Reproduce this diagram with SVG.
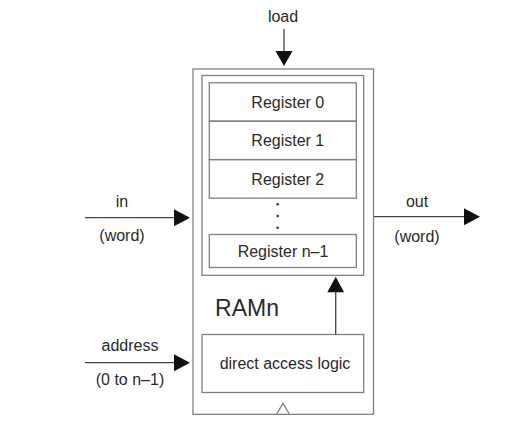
<svg xmlns="http://www.w3.org/2000/svg" width="509" height="430" viewBox="0 0 509 430">
<defs>
<style>
.box{fill:none;stroke:#808080;stroke-width:1.3}
.t{font-family:"Liberation Sans",Arial,sans-serif;font-size:16px;fill:#2a2a2a;text-anchor:middle}
.line{stroke:#444;stroke-width:1.3;fill:none}
.head{fill:#111}
</style>
</defs>
<rect width="509" height="430" fill="#fff"/>
<g id="ramn">
<rect class="box" x="193" y="69" width="180.5" height="345.3"/>
<text class="t" x="247" y="316" style="font-size:23px">RAMn</text>
<polyline class="box" points="276.7,414 282.9,403.3 289.3,414"/>
</g>
<g id="registers">
<rect class="box" x="202" y="75.5" width="161.7" height="199.8"/>
</g>
<g id="reg0"><rect class="box" x="209.3" y="82.8" width="147" height="38.4"/><text class="t" x="287.8" y="107.6">Register 0</text></g>
<g id="reg1"><rect class="box" x="209.3" y="121.2" width="147" height="38.4"/><text class="t" x="287.8" y="146">Register 1</text></g>
<g id="reg2"><rect class="box" x="209.3" y="159.6" width="147" height="38.6"/><text class="t" x="287.8" y="184.6">Register 2</text></g>
<g id="dots" fill="#333">
<circle cx="277.7" cy="204.3" r="1.3"/><circle cx="277.7" cy="216" r="1.3"/><circle cx="277.7" cy="227.7" r="1.3"/>
</g>
<g id="regn1"><rect class="box" x="209.3" y="234.5" width="147" height="33"/><text class="t" x="283" y="257">Register n–1</text></g>
<g id="logic"><rect class="box" x="202" y="334.5" width="161.7" height="58"/><text class="t" x="285" y="369">direct access logic</text></g>
<g id="connectors">
<line class="line" x1="284" y1="29" x2="284" y2="52"/><polygon class="head" points="275.5,51 292.5,51 284,66"/>
<text class="t" x="283" y="22">load</text>
<line class="line" x1="85" y1="217.7" x2="175" y2="217.7"/><polygon class="head" points="174,209.2 174,226.2 190,217.7"/>
<text class="t" x="122" y="207">in</text><text class="t" x="122" y="241">(word)</text>
<line class="line" x1="85" y1="362.7" x2="175" y2="362.7"/><polygon class="head" points="174,354.2 174,371.2 190,362.7"/>
<text class="t" x="130" y="351">address</text><text class="t" x="130" y="385">(0 to n–1)</text>
<line class="line" x1="374" y1="216.7" x2="465" y2="216.7"/><polygon class="head" points="464,208.2 464,225.2 480,216.7"/>
<text class="t" x="417" y="207">out</text><text class="t" x="417" y="241.5">(word)</text>
<line class="line" x1="335.7" y1="334.5" x2="335.7" y2="291"/><polygon class="head" points="327.3,292.3 344.1,292.3 335.7,276.7"/>
</g>
</svg>
